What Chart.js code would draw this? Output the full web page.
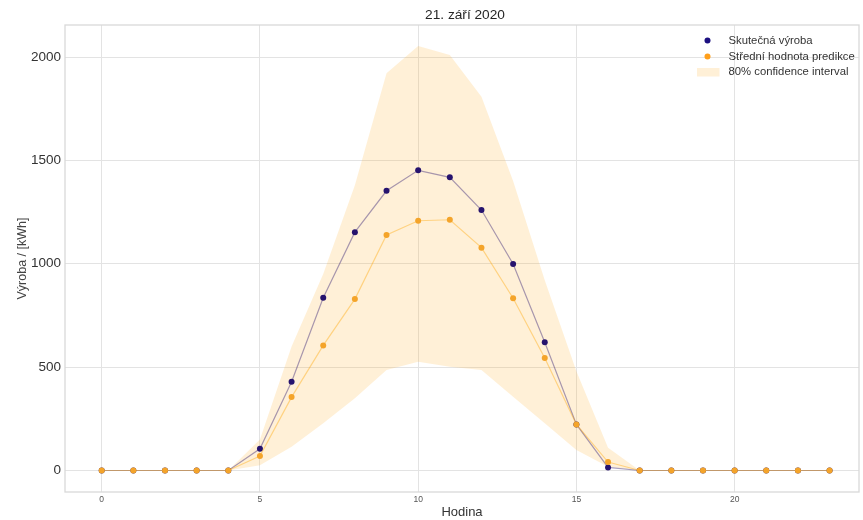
<!DOCTYPE html>
<html lang="cs">
<head>
<meta charset="utf-8">
<title>Výroba 21. září 2020</title>
<script src="https://cdn.jsdelivr.net/npm/chart.js@4/dist/chart.umd.min.js"></script>
<style>
  html, body { margin: 0; padding: 0; background: #ffffff; }
  #wrap { width: 863px; height: 520px; position: relative; }
</style>
</head>
<body>
<div id="wrap"><canvas id="chart" width="863" height="520"></canvas></div>
<script>
// Hodiny dne
const hours = [0, 1, 2, 3, 4, 5, 6, 7, 8, 9, 10, 11, 12, 13, 14, 15, 16, 17, 18, 19, 20, 21, 22, 23];
// Skutečná výroba [kWh]
const actual = [0, 0, 0, 0, 0, 105, 429, 836, 1153, 1353, 1452, 1418, 1260, 999, 620, 223, 15, 0, 0, 0, 0, 0, 0, 0];
// Střední hodnota predikce [kWh]
const predicted = [0, 0, 0, 0, 0, 70, 355, 605, 829, 1139, 1208, 1213, 1078, 833, 544, 223, 41, 0, 0, 0, 0, 0, 0, 0];
// 80% interval spolehlivosti – horní a dolní mez
const upperBound = [0, 0, 0, 0, 0, 150, 600, 950, 1380, 1921, 2053, 2010, 1808, 1400, 920, 480, 110, 0, 0, 0, 0, 0, 0, 0];
const lowerBound = [0, 0, 0, 0, 0, 25, 115, 228, 350, 486, 526, 502, 486, 357, 228, 99, 18, 0, 0, 0, 0, 0, 0, 0];

const xTicks = [0, 5, 10, 15, 20];
const yTicks = [0, 500, 1000, 1500, 2000];

const chartTitle = '21. září 2020';
const xTitle = 'Hodina';
const yTitle = 'Výroba / [kWh]';
const labelActual = 'Skutečná výroba';
const labelPredicted = 'Střední hodnota predikce';
const labelInterval = '80% confidence interval';

const FONT = '"Liberation Sans", Arial, Helvetica, sans-serif';
const C_ACTUAL = '#26136e';
const C_ACTUAL_LINE = 'rgba(60, 40, 120, 0.45)';
const C_PRED = '#f4a42a';
const C_PRED_LINE = 'rgba(255, 165, 0, 0.4)';
const C_BAND = 'rgba(255, 176, 40, 0.19)';
const C_GRID = '#e3e3e3';

const toPoints = (ys) => hours.map((h, i) => ({ x: h, y: ys[i] }));

// Rámeček grafu, titulek a legenda uvnitř plochy
const decor = {
  id: 'decor',
  beforeDatasetsDraw(chart) {
    const { ctx, chartArea: a } = chart;
    ctx.save();
    ctx.strokeStyle = '#d9d9d9';
    ctx.lineWidth = 1.3;
    ctx.strokeRect(a.left, a.top, a.right - a.left, a.bottom - a.top);
    ctx.restore();
  },
  afterDraw(chart) {
    const { ctx, chartArea: a } = chart;
    ctx.save();
    ctx.fillStyle = '#262626';
    ctx.font = '13.7px ' + FONT;
    ctx.textAlign = 'center';
    ctx.textBaseline = 'middle';
    ctx.fillText(chartTitle, (a.left + a.right) / 2 + 3, 15);

    // legenda
    const mx = 707.5, tx = 728.5;
    const rows = [40.5, 56.5, 72];
    ctx.font = '11.3px ' + FONT;
    ctx.textAlign = 'left';
    ctx.fillStyle = '#1c1080';
    ctx.beginPath(); ctx.arc(mx, rows[0], 3, 0, Math.PI * 2); ctx.fill();
    ctx.fillStyle = '#ff9f1a';
    ctx.beginPath(); ctx.arc(mx, rows[1], 3, 0, Math.PI * 2); ctx.fill();
    ctx.fillStyle = C_BAND;
    ctx.fillRect(697, rows[2] - 4, 22.5, 8.5);
    ctx.fillStyle = '#333333';
    ctx.fillText(labelActual, tx, rows[0]);
    ctx.fillText(labelPredicted, tx, rows[1]);
    ctx.fillText(labelInterval, tx, rows[2]);
    ctx.restore();
  }
};

new Chart(document.getElementById('chart'), {
  type: 'line',
  data: {
    datasets: [
      {
        label: labelInterval,
        data: toPoints(upperBound),
        borderWidth: 0,
        pointRadius: 0,
        backgroundColor: C_BAND,
        fill: '+1',
        tension: 0,
        order: 5
      },
      {
        label: labelInterval + ' (dolní)',
        data: toPoints(lowerBound),
        borderWidth: 0,
        pointRadius: 0,
        fill: false,
        tension: 0,
        order: 6
      },
      {
        label: labelActual,
        data: toPoints(actual),
        borderColor: C_ACTUAL_LINE,
        borderWidth: 1.2,
        pointRadius: 3,
        pointBackgroundColor: C_ACTUAL,
        pointBorderWidth: 0,
        fill: false,
        tension: 0,
        order: 2
      },
      {
        label: labelPredicted,
        data: toPoints(predicted),
        borderColor: C_PRED_LINE,
        borderWidth: 1.2,
        pointRadius: 3,
        pointBackgroundColor: C_PRED,
        pointBorderWidth: 0,
        fill: false,
        tension: 0,
        order: 1
      }
    ]
  },
  options: {
    responsive: false,
    animation: false,
    devicePixelRatio: 1,
    layout: { padding: { left: 0, right: 4, top: 25, bottom: 0 } },
    plugins: {
      legend: { display: false },
      title: { display: false },
      tooltip: { enabled: false }
    },
    scales: {
      x: {
        type: 'linear',
        min: -1.16,
        max: 23.93,
        afterFit(scale) { scale.height = 28; },
        afterBuildTicks(scale) { scale.ticks = xTicks.map(v => ({ value: v })); },
        grid: { color: C_GRID, lineWidth: 1, drawTicks: false },
        border: { display: false },
        ticks: {
          padding: 3,
          color: '#555555',
          font: { family: FONT, size: 8.5 },
          maxRotation: 0,
          callback: (v) => String(v)
        },
        title: {
          display: true,
          text: xTitle,
          color: '#333333',
          font: { family: FONT, size: 13, lineHeight: 1 },
          padding: { top: 0, bottom: 1 }
        }
      },
      y: {
        type: 'linear',
        min: -104,
        max: 2155,
        afterFit(scale) { scale.width = 65; },
        afterBuildTicks(scale) { scale.ticks = yTicks.map(v => ({ value: v })); },
        grid: { color: C_GRID, lineWidth: 1, drawTicks: false },
        border: { display: false },
        ticks: {
          padding: 4,
          color: '#333333',
          font: { family: FONT, size: 13.5 },
          callback: (v) => String(v)
        },
        title: {
          display: true,
          text: yTitle,
          color: '#444444',
          font: { family: FONT, size: 12.5, lineHeight: 1 },
          padding: { top: 16, bottom: 0 }
        }
      }
    }
  },
  plugins: [decor]
});
</script>
</body>
</html>
